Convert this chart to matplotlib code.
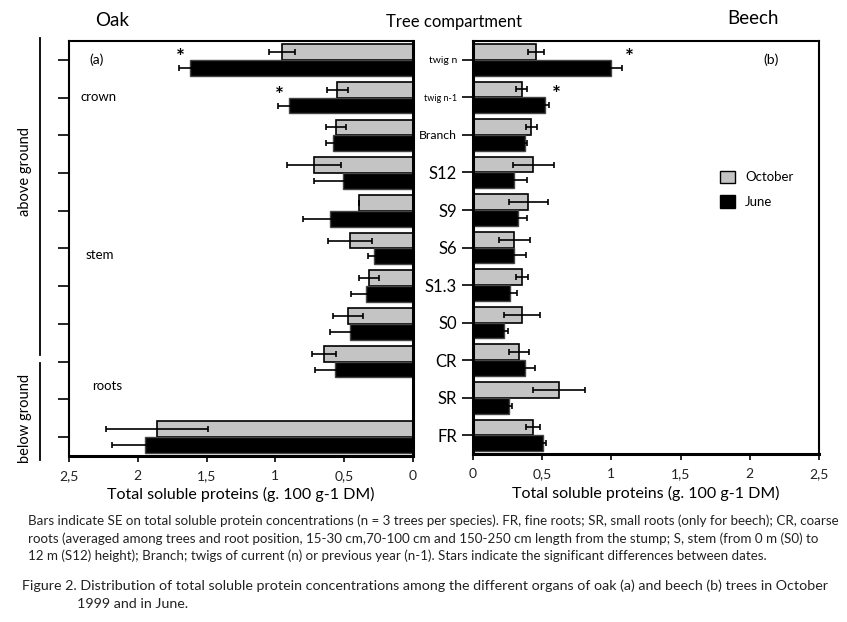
import matplotlib
matplotlib.use("Agg")
import matplotlib.pyplot as plt
from matplotlib.patches import Patch
from matplotlib.lines import Line2D
import numpy as np

plt.rcParams['font.family'] = ['Lato', 'DejaVu Sans']

# compartments, top to bottom
organs = ['twig n', 'twig n-1', 'Branch', 'S12', 'S9', 'S6', 'S1.3', 'S0', 'CR', 'SR', 'FR']
label_sizes = [7.5, 6.5, 8.8, 12, 12, 12, 12, 12, 12, 12, 12]

# oak (a)  -- no SR for oak
oak_oct = [0.95, 0.55, 0.56, 0.72, 0.39, 0.46, 0.32, 0.47, 0.645, np.nan, 1.86]
oak_oct_se = [0.095, 0.078, 0.075, 0.196, 0.0, 0.16, 0.075, 0.11, 0.085, np.nan, 0.37]
oak_jun = [1.62, 0.90, 0.58, 0.51, 0.60, 0.28, 0.34, 0.46, 0.57, np.nan, 1.95]
oak_jun_se = [0.08, 0.083, 0.055, 0.21, 0.20, 0.05, 0.11, 0.145, 0.14, np.nan, 0.24]
oak_star = [True, True, False, False, False, False, False, False, False, False, False]

# beech (b)
beech_oct = [0.455, 0.354, 0.42, 0.436, 0.40, 0.30, 0.354, 0.354, 0.332, 0.62, 0.436]
beech_oct_se = [0.06, 0.04, 0.04, 0.15, 0.143, 0.11, 0.043, 0.13, 0.073, 0.186, 0.05]
beech_jun = [0.997, 0.52, 0.376, 0.294, 0.327, 0.30, 0.27, 0.224, 0.376, 0.262, 0.503]
beech_jun_se = [0.08, 0.03, 0.015, 0.10, 0.065, 0.08, 0.05, 0.027, 0.072, 0.02, 0.024]
beech_star = [True, True, False, False, False, False, False, False, False, False, False]

xticks = [0, 0.5, 1, 1.5, 2, 2.5]
xticklabels = ['0', '0,5', '1', '1,5', '2', '2,5']

gray = '#c4c4c4'
h = 0.42
y = np.arange(len(organs))

fig = plt.figure(figsize=(8.47, 6.22), dpi=100)
ax1 = fig.add_axes([0.0815, 0.267, 0.406, 0.667])
ax2 = fig.add_axes([0.5584, 0.270, 0.4085, 0.664])


def draw(ax, oct_v, oct_se, jun_v, jun_se, stars, pad):
    oct_v = np.array(oct_v); jun_v = np.array(jun_v)
    ax.barh(y - h / 2, oct_v, height=h, color=gray, edgecolor='black', linewidth=1.2)
    ax.barh(y + h / 2, jun_v, height=h, color='black', edgecolor='#444444', linewidth=1.0)
    ax.errorbar(oct_v, y - h / 2, xerr=oct_se, fmt='none', ecolor='black',
                elinewidth=1.2, capsize=2, capthick=1.2)
    ax.errorbar(jun_v, y + h / 2, xerr=jun_se, fmt='none', ecolor='black',
                elinewidth=1.2, capsize=2, capthick=1.2)
    for i, s in enumerate(stars):
        if s:
            ax.text(jun_v[i] + jun_se[i] + pad, y[i] - 0.05, '*', fontsize=15,
                    fontweight='bold', ha='center', va='center')
    ax.set_ylim(len(organs) - 0.5, -0.5)
    ax.set_yticks(y)
    ax.set_xticks(xticks)
    ax.set_xticklabels(xticklabels, fontsize=10, color='#222222')
    ax.tick_params(axis='y', direction='out', length=8, width=1.2)
    ax.tick_params(axis='x', direction='out', length=4, width=1.2, pad=6)
    for sp in ax.spines.values():
        sp.set_linewidth(1.5)
    ax.spines['bottom'].set_linewidth(2.2)
    ax.set_xlabel('Total soluble proteins (g. 100 g-1 DM)', fontsize=11.5, labelpad=4)


draw(ax1, oak_oct, oak_oct_se, oak_jun, oak_jun_se, oak_star, -0.01)
ax1.set_xlim(2.5, 0)
ax1.set_yticklabels([])
ax1.spines['right'].set_linewidth(2.2)

draw(ax2, beech_oct, beech_oct_se, beech_jun, beech_jun_se, beech_star, 0.05)
ax2.set_xlim(0, 2.5)
ax2.set_yticklabels(organs)
for lab, fs in zip(ax2.get_yticklabels(), label_sizes):
    lab.set_fontsize(fs)
ax2.spines['left'].set_linewidth(2.2)

# panel annotations
ax1.text(0.06, 0.954, '(a)', transform=ax1.transAxes, fontsize=10, va='center')
ax1.text(0.032, 0.865, 'crown', transform=ax1.transAxes, fontsize=9.5, va='center')
ax1.text(0.047, 0.484, 'stem', transform=ax1.transAxes, fontsize=9.5, va='center')
ax1.text(0.067, 0.169, 'roots', transform=ax1.transAxes, fontsize=9.5, va='center')
ax2.text(0.838, 0.954, '(b)', transform=ax2.transAxes, fontsize=10, va='center')

handles = [Patch(facecolor=gray, edgecolor='black', label='October'),
           Patch(facecolor='black', edgecolor='black', label='June')]
ax2.legend(handles=handles, loc='upper left', bbox_to_anchor=(0.68, 0.715),
           frameon=False, handlelength=1.1, handleheight=1.1, fontsize=9.5,
           labelspacing=0.9, handletextpad=0.8)

# titles
fig.text(112 / 847, 1 - 20 / 622, 'Oak', fontsize=13.5, ha='center', va='center')
fig.text(454 / 847, 1 - 22 / 622, 'Tree compartment', fontsize=12, ha='center', va='center')
fig.text(753 / 847, 1 - 18 / 622, 'Beech', fontsize=13.5, ha='center', va='center')

# above / below ground brackets
fig.add_artist(Line2D([0.047, 0.047], [1 - 38 / 622, 1 - 355 / 622], color='black', lw=1.3))
fig.add_artist(Line2D([0.047, 0.047], [1 - 363 / 622, 1 - 460 / 622], color='black', lw=1.3))
fig.text(0.0295, 1 - 172 / 622, 'above ground', rotation=90, fontsize=10.5, ha='center', va='center')
fig.text(0.0295, 1 - 418 / 622, 'below ground', rotation=90, fontsize=10.5, ha='center', va='center')

# caption
cap_lines = [
    "Bars indicate SE on total soluble protein concentrations (n = 3 trees per species). FR, fine roots; SR, small roots (only for beech); CR, coarse",
    "roots (averaged among trees and root position, 15-30 cm,70-100 cm and 150-250 cm length from the stump; S, stem (from 0 m (S0) to",
    "12 m (S12) height); Branch; twigs of current (n) or previous year (n-1). Stars indicate the significant differences between dates.",
]
for k, line in enumerate(cap_lines):
    fig.text(28 / 847, 1 - (521 + 17.5 * k) / 622, line, fontsize=9.6, ha='left',
             va='center', color='#222222')
fig.text(22 / 847, 1 - 586 / 622,
         "Figure 2. Distribution of total soluble protein concentrations among the different organs of oak (a) and beech (b) trees in October",
         fontsize=10.3, ha='left', va='center', color='#222222')
fig.text(77 / 847, 1 - 604 / 622, "1999 and in June.", fontsize=10.3, ha='left', va='center', color='#222222')

fig.savefig('out.png', dpi=100)
